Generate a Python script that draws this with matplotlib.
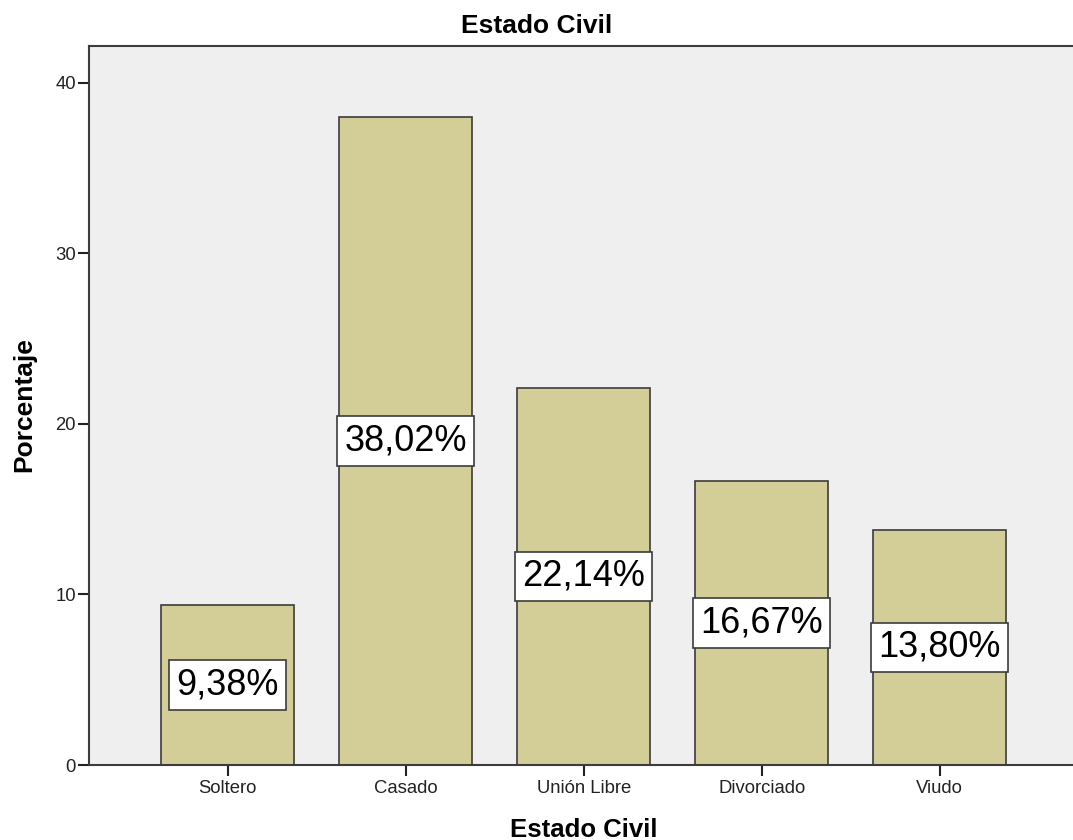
import matplotlib
matplotlib.use('Agg')
import matplotlib.pyplot as plt

plt.rcParams['font.family'] = ['Liberation Sans', 'DejaVu Sans']

categorias = ['Soltero', 'Casado', 'Unión Libre', 'Divorciado', 'Viudo']
porcentajes = [9.38, 38.02, 22.14, 16.67, 13.80]
etiquetas = ['9,38%', '38,02%', '22,14%', '16,67%', '13,80%']

fig = plt.figure(figsize=(10.73, 8.4), dpi=100)
ax = fig.add_axes([89 / 1073, 75 / 840, 1 - 89 / 1073 + 0.002, 719 / 840])
ax.set_facecolor('#efefef')

x = list(range(len(categorias)))
ax.bar(x, porcentajes, width=0.747, color='#d3ce97', edgecolor='#3c3c3c', linewidth=1.2, zorder=2)

# etiquetas centradas en cada barra
for xi, v, t in zip(x, porcentajes, etiquetas):
    ax.text(xi, v / 2, t, ha='center', va='center', fontsize=26, color='black', zorder=3,
            bbox=dict(boxstyle='square,pad=0.2', fc='white', ec='#3c3c3c', lw=1.2))

ax.set_xlim(-0.778, 4.76)
ax.set_ylim(0, 42.17)
ax.set_yticks([0, 10, 20, 30, 40])
ax.set_xticks(x)
ax.set_xticklabels(categorias)
ax.tick_params(axis='both', labelsize=13.3, colors='#222222', length=8, width=1.5, direction='out')
ax.tick_params(axis='y', pad=1.5)
ax.tick_params(axis='x', pad=3)

for s in ['left', 'top', 'bottom']:
    ax.spines[s].set_color('#3c3c3c')
    ax.spines[s].set_linewidth(1.5)
ax.spines['right'].set_visible(False)

fig.text(537 / 1073, 1 - 33 / 840, 'Estado Civil', ha='center', va='baseline', fontsize=19, fontweight='bold')
fig.text(584 / 1073, 3 / 840, 'Estado Civil', ha='center', va='baseline', fontsize=18.5, fontweight='bold')
fig.text(0.023, 1 - 405 / 840, 'Porcentaje', ha='center', va='center', rotation=90, fontsize=19, fontweight='bold')

fig.savefig('out.png', dpi=100)
